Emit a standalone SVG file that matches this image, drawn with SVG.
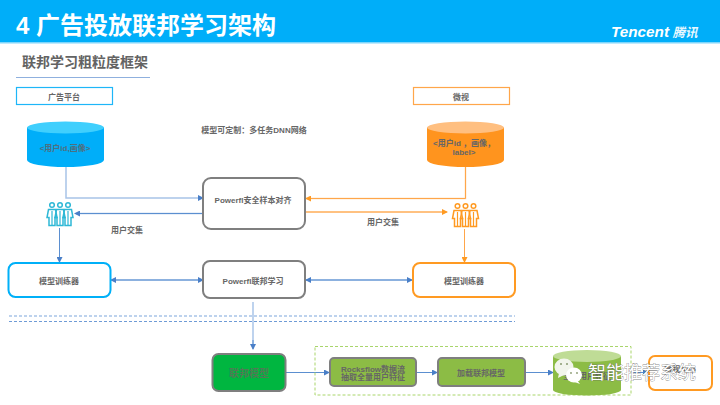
<svg xmlns="http://www.w3.org/2000/svg" width="720" height="405" viewBox="0 0 720 405">
<style>
text{font-family:"Liberation Sans","Noto Sans CJK SC",sans-serif;fill:#595959;text-anchor:middle}
.s{font-size:8px;font-weight:700;fill:#666}
.gb{fill:#fff;stroke:#7f7f7f;stroke-width:2}
.blue{fill:#fff;stroke:#00b0f8;stroke-width:2}
.org{fill:#fff;stroke:#ff9a22;stroke-width:2}
.gbx{fill:#8cbc45;stroke:#7f7f7f;stroke-width:2}
.c{fill:none;stroke:#5b8fd0;stroke-width:1}
.cl{fill:none;stroke:#a8c4e8;stroke-width:1.5}
.co{fill:none;stroke:#ffa64a;stroke-width:1}
.col{fill:none;stroke:#ffd2a0;stroke-width:1.5}
</style>
<defs>
<marker id="ab" markerWidth="6" markerHeight="6" refX="5" refY="3" orient="auto-start-reverse" markerUnits="userSpaceOnUse"><path d="M0 0L6 3L0 6Z" fill="#4a7fc8"/></marker>
<marker id="ao" markerWidth="6" markerHeight="6" refX="5" refY="3" orient="auto-start-reverse" markerUnits="userSpaceOnUse"><path d="M0 0L6 3L0 6Z" fill="#ff9a22"/></marker>
<g id="pp"><g id="p1"><circle cx="5" cy="3" r="2.300" fill="none" stroke-width="1.500"/><path d="M1.500 7.500H8.500L10 15.500H8V23.500H2V15.500H0Z" fill="none" stroke-width="1.500"/><path d="M5 9V23" fill="none" stroke-width="1.200"/></g><use href="#p1" x="8"/><use href="#p1" x="16"/></g>
</defs>
<g id="header">
<rect width="720" height="42" fill="#00aef9"/><rect y="42" width="720" height="1.500" fill="#7fd6fb"/>
<text x="146" y="34" style="font-size:24px;font-weight:700;fill:#fff">4 广告投放联邦学习架构</text>
<text x="640" y="37" textLength="58" lengthAdjust="spacingAndGlyphs" style="font-size:15.500px;font-style:italic;font-weight:700;fill:#fff">Tencent</text>
<text x="685" y="37" style="font-size:12.500px;font-style:italic;font-weight:700;fill:#e8f8ff">腾讯</text>
</g>
<g id="subtitle">
<text x="85" y="67" style="font-size:14px;font-weight:700;fill:#636363">联邦学习粗粒度框架</text>
<rect x="16" y="77" width="134" height="1" fill="#8fb0de"/>
</g>
<g id="connectors">
<path class="cl" d="M66 167V198H201"/><path class="c" d="M201 198H203" marker-end="url(#ab)"/>
<path class="col" d="M465.500 167V198.500H306"/><path class="co" d="M465.500 167V198.500H306" marker-end="url(#ao)"/>
<path class="cl" d="M203 213.500H76"/><path class="c" d="M203 213.500H75" marker-end="url(#ab)"/>
<path class="col" d="M305 212H446"/><path class="co" d="M305 212H447" marker-end="url(#ao)"/>
<path class="c" d="M59.500 228V262" marker-end="url(#ab)"/>
<path class="co" d="M464.500 229V262" marker-end="url(#ao)"/>
<path class="cl" d="M112 280H202"/><path class="c" d="M111 280H203" marker-start="url(#ab)" marker-end="url(#ab)"/>
<path class="cl" d="M306 280H411"/><path class="c" d="M306 280H412" marker-start="url(#ab)" marker-end="url(#ab)"/>
<path class="cl" d="M253 302V347"/><path class="c" d="M253 340V349" marker-end="url(#ab)"/>
<path class="c" d="M286 372.500H329" marker-end="url(#ab)"/>
<path class="c" d="M417 372.500H437" marker-end="url(#ab)"/>
<path class="c" d="M525 372.500H553" marker-end="url(#ab)"/>
<path class="c" d="M632 372.500H648" marker-end="url(#ab)"/>
<path d="M9 316H515" fill="none" stroke="#a8c4e8" stroke-width="1.500" stroke-dasharray="3 2"/>
<path d="M9 321.500H515" fill="none" stroke="#6f9bd6" stroke-width="1" stroke-dasharray="3 2"/>
</g>
<g id="label-ad"><rect x="16.500" y="87.500" width="96" height="17" fill="#fff" stroke="#1eb6f8" stroke-width="1.200"/><text class="s" x="64" y="100">广告平台</text></g>
<g id="label-wx"><rect x="413.500" y="87.500" width="96" height="17" fill="#fff" stroke="#ffa64a" stroke-width="1.200"/><text class="s" x="461" y="100">微视</text></g>
<g id="db-ad"><path d="M27 127.500V160A38.500 7 0 0 0 104 160V127.500Z" fill="#00aef9"/><ellipse cx="65.500" cy="127.500" rx="38.500" ry="6" fill="#40cffd"/><text class="s" x="65" y="151" style="fill:#4f6f80">&lt;用户id,画像&gt;</text></g>
<g id="db-wx"><path d="M427 127.500V160A38.500 7 0 0 0 504 160V127.500Z" fill="#ff941e"/><ellipse cx="465.500" cy="127.500" rx="38.500" ry="6" fill="#ffbf80"/><text class="s" x="464" y="146">&lt;用户id ，画像，</text><text class="s" x="464" y="155">label&gt;</text></g>
<text id="custom" class="s" x="254" y="133">模型可定制：多任务DNN网络</text>
<g id="align"><rect class="gb" x="203" y="178" width="102" height="51" rx="8"/><text class="s" x="253" y="203">Powerfl安全样本对齐</text></g>
<g id="users-a"><use href="#pp" x="47" y="202" stroke="#2eb8d6"/></g>
<g id="users-b"><use href="#pp" x="452.500" y="203" stroke="#ff9a22"/></g>
<text id="inter-a" class="s" x="127" y="233">用户交集</text>
<text id="inter-b" class="s" x="383" y="225">用户交集</text>
<g id="train-a"><rect class="blue" x="8.500" y="263" width="102" height="34" rx="7"/><text class="s" x="59" y="284">模型训练器</text></g>
<g id="fed"><rect class="gb" x="203" y="261" width="102" height="37" rx="7"/><text class="s" x="253" y="284">Powerfl联邦学习</text></g>
<g id="train-b"><rect class="org" x="413" y="263" width="102" height="34" rx="7"/><text class="s" x="464" y="284">模型训练器</text></g>
<rect id="dash" x="315" y="346.500" width="316" height="48.500" fill="none" stroke="#a9d56b" stroke-width="1" stroke-dasharray="3 2"/>
<g id="fedmodel"><rect x="212.500" y="354" width="73" height="37" rx="6" fill="#00b640" stroke="#7f7f7f" stroke-width="2"/><text x="249" y="377" style="font-size:10px;font-weight:700;fill:#4f7a55">联邦模型</text></g>
<g id="rocks"><rect class="gbx" x="330" y="358" width="86" height="28" rx="4"/><text class="s" x="373" y="372">Rocksflow数据流</text><text class="s" x="373" y="380">抽取全量用户特征</text></g>
<g id="load"><rect class="gbx" x="438" y="358" width="87" height="28" rx="4"/><text class="s" x="481" y="376">加载联邦模型</text></g>
<g id="db-g"><path d="M553 356V390A34 5.500 0 0 0 621 390V356Z" fill="#8cbc45"/><ellipse cx="587" cy="356" rx="34" ry="6" fill="#bfdc96"/><text class="s" x="587" y="379">全量用户特征</text></g>
<g id="rec"><rect class="org" x="649" y="356" width="63" height="34" rx="6"/><text class="s" x="680" y="372">微视App</text></g>
<g id="watermark">
<ellipse cx="564" cy="367" rx="9.500" ry="8.500" fill="#f2f5ec"/><path d="M559 373L558 378L564 375Z" fill="#f2f5ec"/>
<ellipse cx="574" cy="375" rx="8" ry="7.500" fill="#fff"/><path d="M577 380L580 384L572 381Z" fill="#fff"/>
<circle cx="561" cy="364" r="1" fill="#8a9a70"/><circle cx="567" cy="364" r="1" fill="#8a9a70"/><circle cx="571" cy="373" r="0.900" fill="#8a9a70"/><circle cx="577" cy="373" r="0.900" fill="#8a9a70"/>
<text x="642" y="379" style="font-size:18px;fill:#fff;stroke:#555;stroke-width:.5;paint-order:stroke">智能推荐系统</text>
</g>
</svg>
